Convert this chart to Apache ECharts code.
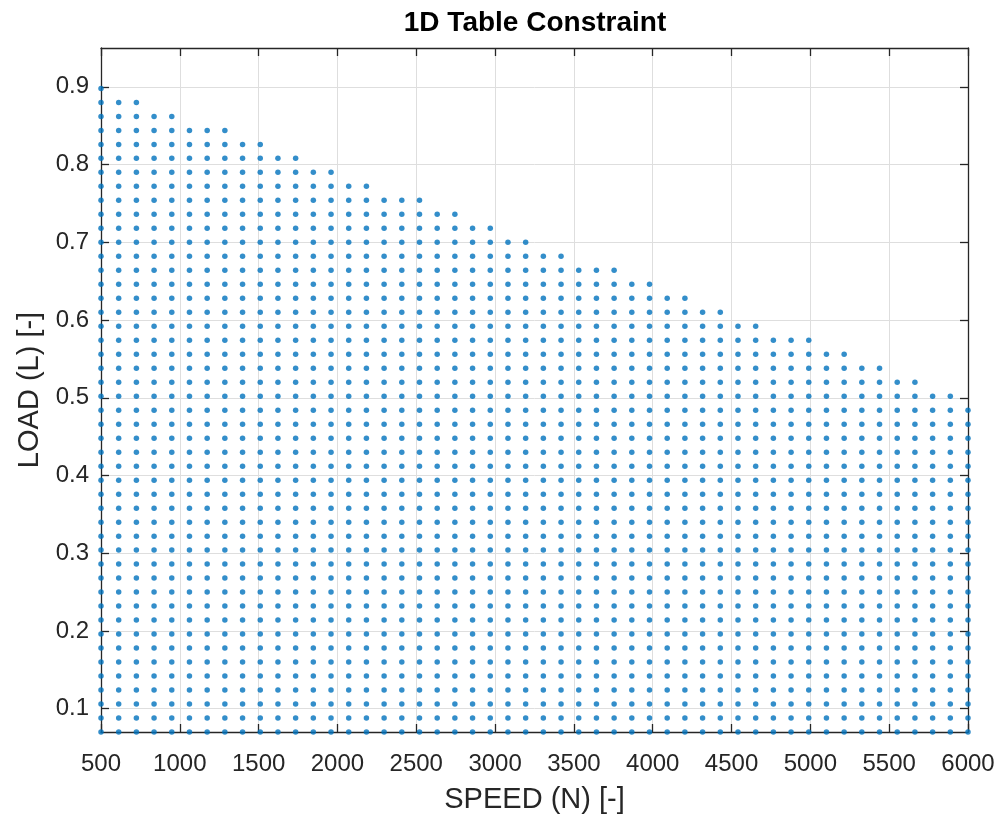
<!DOCTYPE html>
<html>
<head>
<meta charset="utf-8">
<script src="https://cdn.jsdelivr.net/npm/echarts@6/dist/echarts.min.js"></script>
<style>
  html, body { margin: 0; padding: 0; background: #ffffff; }
  #chart { width: 1000px; height: 819px; }
</style>
</head>
<body>
<div id="chart"></div>
<script>
// Speed grid (50 columns)
const speeds = [500, 612.2, 724.5, 836.7, 949.0, 1061.2, 1173.5, 1285.7, 1398.0, 1510.2,
  1622.4, 1734.7, 1846.9, 1959.2, 2071.4, 2183.7, 2295.9, 2408.2, 2520.4, 2632.7,
  2744.9, 2857.1, 2969.4, 3081.6, 3193.9, 3306.1, 3418.4, 3530.6, 3642.9, 3755.1,
  3867.3, 3979.6, 4091.8, 4204.1, 4316.3, 4428.6, 4540.8, 4653.1, 4765.3, 4877.6,
  4989.8, 5102.0, 5214.3, 5326.5, 5438.8, 5551.0, 5663.3, 5775.5, 5887.8, 6000];

// Load grid (47 rows)
const loads = [0.070, 0.088, 0.106, 0.124, 0.142, 0.160, 0.178, 0.196, 0.214, 0.232,
  0.250, 0.268, 0.286, 0.304, 0.322, 0.340, 0.358, 0.376, 0.394, 0.412,
  0.430, 0.448, 0.466, 0.484, 0.502, 0.520, 0.538, 0.556, 0.574, 0.592,
  0.610, 0.628, 0.646, 0.664, 0.682, 0.700, 0.718, 0.736, 0.754, 0.772,
  0.790, 0.808, 0.826, 0.844, 0.862, 0.880, 0.898];

// Maximum allowed load (1D table constraint) for each speed column
const maxLoad = [0.898, 0.880, 0.880, 0.862, 0.862, 0.844, 0.844, 0.844, 0.826, 0.826,
  0.808, 0.808, 0.790, 0.790, 0.772, 0.772, 0.754, 0.754, 0.754, 0.736,
  0.736, 0.718, 0.718, 0.700, 0.700, 0.682, 0.682, 0.664, 0.664, 0.664,
  0.646, 0.646, 0.628, 0.628, 0.610, 0.610, 0.592, 0.592, 0.574, 0.574,
  0.574, 0.556, 0.556, 0.538, 0.538, 0.520, 0.520, 0.502, 0.502, 0.484];

const yTicks = [0.1, 0.2, 0.3, 0.4, 0.5, 0.6, 0.7, 0.8, 0.9];

const points = [];
speeds.forEach(function (s, i) {
  loads.forEach(function (l) {
    if (l <= maxLoad[i] + 1e-9) points.push([s, l]);
  });
});

const textColor = '#262626';
const fontFamily = 'Liberation Sans, Arial, Helvetica, sans-serif';
const gridColor = '#dedede';

const chart = echarts.init(document.getElementById('chart'), null, { renderer: 'canvas' });
chart.setOption({
  animation: false,
  backgroundColor: '#ffffff',
  title: {
    text: '1D Table Constraint',
    left: 530, top: 4, textAlign: 'center',
    textStyle: { fontFamily: fontFamily, fontSize: 28, fontWeight: 'bold', color: '#000000' }
  },
  grid: { left: 101, right: 32, top: 48, bottom: 87, containLabel: false },
  xAxis: [{
    type: 'value', position: 'bottom',
    min: 500, max: 6000, interval: 500,
    name: 'SPEED (N) [-]', nameLocation: 'middle', nameGap: 53,
    nameTextStyle: { fontFamily: fontFamily, fontSize: 29, color: textColor },
    axisLine: { show: true, onZero: false, lineStyle: { color: textColor, width: 1.3 } },
    axisTick: { show: true, inside: true, length: 8, lineStyle: { color: textColor, width: 1.3 } },
    axisLabel: { fontFamily: fontFamily, fontSize: 24, color: textColor, margin: 20,
      formatter: function (v) { return String(v); } },
    splitLine: { show: true, lineStyle: { color: gridColor, width: 1 } }
  }, {
    type: 'value', position: 'top',
    min: 500, max: 6000, interval: 500,
    axisLine: { show: true, onZero: false, lineStyle: { color: textColor, width: 1.3 } },
    axisTick: { show: true, inside: true, length: 8, lineStyle: { color: textColor, width: 1.3 } },
    axisLabel: { show: false },
    splitLine: { show: false }
  }],
  yAxis: [{
    type: 'value', position: 'left',
    min: 0.07, max: 0.95,
    name: 'LOAD (L) [-]', nameLocation: 'middle', nameGap: 57,
    nameTextStyle: { fontFamily: fontFamily, fontSize: 29, color: textColor },
    axisLine: { show: true, onZero: false, lineStyle: { color: textColor, width: 1.3 } },
    axisTick: { show: true, inside: true, length: 8, customValues: yTicks, lineStyle: { color: textColor, width: 1.3 } },
    axisLabel: { fontFamily: fontFamily, fontSize: 24, color: textColor, margin: 12, customValues: yTicks,
      formatter: function (v) { return (Math.round(v * 10) / 10).toFixed(1); } },
    splitLine: { show: true, lineStyle: { color: gridColor, width: 1 } }
  }, {
    type: 'value', position: 'right',
    min: 0.07, max: 0.95,
    axisLine: { show: true, onZero: false, lineStyle: { color: textColor, width: 1.3 } },
    axisTick: { show: true, inside: true, length: 8, customValues: yTicks, lineStyle: { color: textColor, width: 1.3 } },
    axisLabel: { show: false, customValues: yTicks },
    splitLine: { show: false }
  }],
  series: [{
    type: 'scatter',
    xAxisIndex: 0, yAxisIndex: 0,
    data: points,
    symbol: 'circle',
    symbolSize: 5.5,
    clip: false,
    itemStyle: { color: '#0072BD' },
    emphasis: { disabled: true }
  }]
});
</script>
</body>
</html>
